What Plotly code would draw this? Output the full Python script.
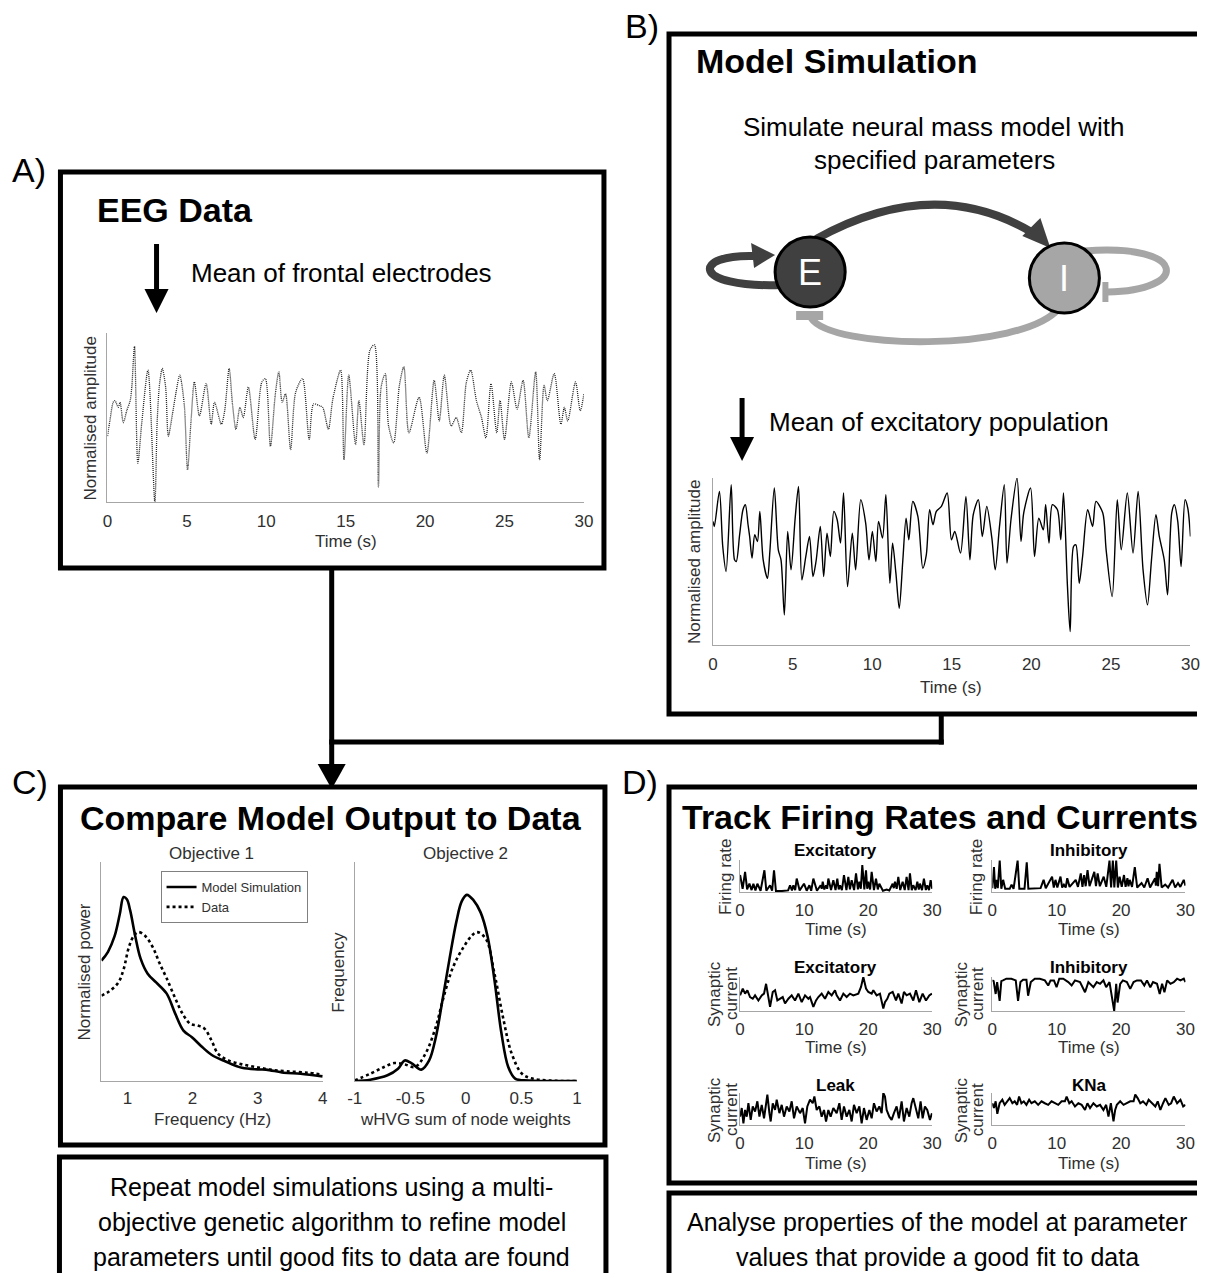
import plotly.graph_objects as go

W, H = 1206, 1273
FONT = "Liberation Sans, Arial, sans-serif"
AXC = "#a6a6a6"
TXT = "#303030"

# horizontal calibration of the page capture (screen x = SX * paper_px + OX)
SX, OX = 0.985, 7.6

# ---------------- data ----------------
eeg_t = [0, 0.15, 0.36, 0.47, 0.68, 0.79, 1.0, 1.21, 1.43, 1.53,
         1.70, 1.91, 2.17, 2.55, 2.98, 3.13, 3.28, 3.45, 3.66, 3.83,
         4.09, 4.30, 4.55, 4.83, 5.04, 5.26, 5.47, 5.79, 6.21, 6.53,
         6.74, 7.17, 7.38, 7.66, 7.87, 8.09, 8.34, 8.55, 8.87, 9.30,
         9.72, 9.94, 10.26, 10.57, 10.79, 11.0, 11.21, 11.53, 11.85, 12.28,
         12.70, 12.98, 13.34, 13.55, 13.91, 14.19, 14.68, 14.89, 15.19, 15.62,
         15.83, 16.15, 16.53, 16.81, 17.06, 17.23, 17.49, 17.70, 18.02, 18.38,
         18.66, 18.98, 19.62, 20.11, 20.57, 20.89, 21.21, 21.64, 21.96, 22.28,
         22.6, 22.87, 23.23, 23.55, 23.83, 24.15, 24.51, 24.72, 25.0, 25.43,
         25.79, 26.17, 26.53, 26.96, 27.21, 27.49, 27.70, 28.13, 28.55, 28.77,
         28.98, 29.47, 29.77, 30]
eeg_v = [39, 48, 59, 60, 56, 59, 47, 54, 60, 68,
         92, 23, 48, 78, 0, 48, 70, 79, 68, 39,
         52, 64, 75, 58, 19, 48, 71, 51, 70, 46,
         59, 46, 54, 79, 58, 43, 56, 50, 68, 37,
         71, 73, 33, 64, 77, 59, 64, 31, 65, 73,
         37, 58, 57, 56, 43, 61, 78, 25, 75, 34,
         60, 34, 90, 93, 9, 68, 76, 45, 35, 69,
         80, 41, 62, 29, 72, 48, 75, 45, 50, 41,
         71, 78, 60, 50, 38, 70, 41, 60, 37, 71,
         55, 72, 38, 77, 25, 69, 60, 76, 46, 56,
         48, 71, 54, 64]

sim_t = [0, 0.08, 0.40, 0.61, 0.82, 1.14, 1.35, 1.46, 1.67, 1.88,
         2.03, 2.20, 2.30, 2.45, 2.62, 2.79, 2.94, 3.15, 3.42, 3.57,
         3.85, 4.10, 4.27, 4.48, 4.69, 4.90, 5.16, 5.37, 5.58, 5.83,
         6.06, 6.28, 6.47, 6.74, 6.95, 7.16, 7.37, 7.59, 7.80, 8.01,
         8.20, 8.45, 8.75, 8.96, 9.28, 9.59, 9.80, 10.01, 10.23, 10.40,
         10.65, 10.86, 11.11, 11.28, 11.49, 11.70, 11.92, 12.13, 12.30, 12.55,
         12.87, 13.18, 13.40, 13.61, 13.82, 14.03, 14.35, 14.71, 14.98, 15.19,
         15.55, 15.89, 16.14, 16.35, 16.67, 16.92, 17.20, 17.52, 17.73, 18.00,
         18.30, 18.47, 18.72, 19.10, 19.35, 19.52, 19.95, 20.20, 20.47, 20.75,
         20.90, 21.11, 21.32, 21.64, 21.85, 22.02, 22.27, 22.44, 22.65, 22.80,
         23.01, 23.22, 23.54, 23.85, 24.06, 24.49, 24.70, 25.08, 25.40, 25.65,
         26.03, 26.39, 26.71, 27.02, 27.30, 27.55, 27.83, 28.04, 28.35, 28.56,
         28.82, 28.99, 29.20, 29.41, 29.66, 29.83, 30.0]
sim_v = [74, 71, 92, 59, 44, 96, 51, 50, 66, 81,
         84, 72, 65, 52, 66, 62, 80, 51, 40, 56,
         94, 57, 51, 18, 68, 45, 76, 95, 39, 53,
         65, 41, 50, 71, 41, 67, 53, 80, 75, 61,
         91, 35, 67, 45, 87, 73, 51, 68, 50, 74,
         64, 90, 37, 61, 43, 22, 50, 76, 63, 86,
         77, 46, 54, 81, 72, 80, 83, 91, 63, 68,
         55, 89, 51, 78, 87, 65, 83, 64, 45, 71,
         96, 49, 75, 100, 62, 79, 94, 53, 76, 69,
         84, 61, 84, 81, 63, 91, 35, 8, 59, 60,
         37, 53, 81, 71, 86, 79, 57, 29, 87, 57,
         91, 55, 92, 45, 24, 51, 78, 65, 51, 30,
         79, 84, 74, 47, 87, 82, 65]

psd_f_model = [0.6, 0.70, 0.80, 0.88, 0.94, 0.99, 1.04, 1.12, 1.20, 1.31, 1.44, 1.60,
               1.73, 1.86, 1.99, 2.13, 2.29, 2.50, 2.76, 3.0, 3.13, 3.40, 3.66, 4.0]
psd_model = [55, 59, 66, 76, 84, 83, 78, 66, 56, 49, 45, 40,
             31, 23, 20, 16, 12, 9, 6, 5.3, 5.2, 3.8, 3.3, 2.1]
psd_f_data = [0.6, 0.72, 0.86, 0.94, 1.02, 1.10, 1.17, 1.28, 1.39, 1.49, 1.60, 1.73, 1.86,
              1.97, 2.07, 2.18, 2.29, 2.39, 2.55, 2.76, 2.97, 3.19, 3.45, 3.77, 4.0]
psd_data = [39, 41, 45, 51, 61, 66.5, 68, 66, 61, 54, 47, 38, 30,
            26, 25.4, 24, 18.6, 12.5, 9.4, 7.6, 6.4, 5.2, 4.4, 3.8, 2.9]

hvg_x_model = [-1, -0.86, -0.705, -0.61, -0.55, -0.49, -0.40, -0.33, -0.27, -0.21, -0.146, -0.084,
               -0.037, 0.009, 0.07, 0.133, 0.196, 0.258, 0.32, 0.382, 0.444, 0.568, 1.0]
hvg_model = [0, 0.6, 2.6, 5.6, 9.4, 8.2, 5.2, 9.4, 20, 37, 56, 73,
             82, 85, 82.5, 77, 66, 46, 22, 6.4, 1.1, 0.2, 0]
hvg_x_data = [-1, -0.86, -0.736, -0.643, -0.55, -0.457, -0.363, -0.27, -0.208, -0.115, -0.022,
              0.056, 0.102, 0.18, 0.258, 0.335, 0.413, 0.506, 0.6, 0.755, 1.0]
hvg_data = [0.3, 3.3, 6.4, 8.2, 7.6, 6.4, 12.5, 24.7, 36.8, 52, 61,
            66.5, 68, 65, 49, 29, 12.5, 3.3, 1.1, 0.2, 0]

exc_fr_t = [0, 0.4, 0.78, 1.1, 1.46, 1.8, 2.08, 2.4, 2.7, 3.2, 3.8, 4.1, 4.68, 5.0, 5.3, 5.6,
            6.5, 7.5, 7.8, 8.1, 8.32, 8.6, 8.84, 9.3, 9.98, 10.4, 10.82, 11.1, 11.44, 12.0,
            12.58, 12.75, 12.9, 13.15, 13.42, 13.6, 13.78, 14.2, 14.56, 14.9, 15.18, 15.4,
            15.6, 15.9, 16.22, 16.6, 16.9, 17.15, 17.42, 17.8, 18.1, 18.4, 18.62, 18.85,
            19.08, 19.4, 19.66, 19.85, 20.02, 20.3, 20.54, 20.9, 21.22, 21.5, 21.74, 22.3,
            22.88, 23.3, 23.82, 24.0, 24.18, 24.45, 24.7, 25.0, 25.38, 25.7, 26.0, 26.3,
            26.52, 26.8, 27.04, 27.4, 27.67, 27.9, 28.08, 28.4, 28.7, 29.0, 29.22, 29.5,
            29.75, 30]
exc_fr_v = [53, 10, 63, 8, 26, 6, 26, 5, 26, 4, 68, 4, 21, 4, 68, 3,
            3, 5, 21, 5, 21, 6, 42, 5, 26, 4, 21, 4, 42, 4,
            21, 10, 32, 8, 21, 10, 42, 6, 37, 6, 42, 8,
            21, 6, 53, 6, 47, 8, 37, 6, 58, 8, 32, 10,
            84, 8, 68, 10, 32, 8, 63, 6, 42, 8, 26, 4,
            8, 5, 26, 12, 32, 10, 47, 6, 32, 6, 47, 6,
            58, 6, 21, 6, 32, 8, 26, 6, 42, 6, 21, 6,
            37, 10]

inh_fr_t = [0, 0.26, 0.45, 0.63, 0.85, 1.15, 1.4, 1.68, 2.0, 2.7, 2.99, 3.3, 3.93, 4.2,
            5.0, 5.35, 5.6, 6.5, 7.5, 7.97, 8.3, 9.28, 9.55, 9.81, 10.1, 10.59, 10.85,
            11.12, 11.4, 11.64, 12.0, 12.95, 13.3, 13.74, 14.0, 14.26, 14.5, 14.79, 15.1,
            15.84, 16.1, 16.36, 16.7, 17.3, 17.7, 18.2, 18.45, 18.72, 18.95, 19.24, 19.5,
            19.77, 20.1, 20.45, 20.7, 20.98, 21.15, 21.34, 21.7, 22.13, 22.5, 23.18, 23.6,
            24.12, 24.5, 25.28, 25.4, 25.54, 25.75, 25.96, 26.3, 26.85, 27.3, 28.0, 28.4,
            28.84, 29.2, 29.73, 30]
inh_fr_v = [12, 78, 10, 38, 12, 98, 10, 38, 10, 10, 23, 10, 98, 10,
            10, 93, 10, 10, 12, 38, 12, 48, 14, 38, 14, 48, 14,
            23, 14, 43, 16, 38, 16, 58, 16, 53, 18, 68, 18,
            63, 18, 58, 18, 48, 16, 98, 14, 98, 14, 98, 14,
            48, 16, 53, 16, 43, 18, 38, 16, 78, 14, 28, 14,
            43, 14, 43, 20, 63, 18, 88, 14, 23, 14, 38, 14,
            28, 16, 38, 20]

exc_cur_t = [0, 0.42, 0.78, 1.14, 1.56, 1.98, 2.34, 2.86, 3.38, 3.74, 4.06, 4.42, 4.68, 5.1,
             5.46, 5.82, 6.24, 6.66, 7.02, 7.54, 8.06, 8.58, 9.1, 9.62, 10.14, 10.66, 10.92,
             11.44, 11.86, 12.22, 12.74, 13.26, 13.78, 14.3, 14.82, 15.08, 15.6, 16.12, 16.64,
             17.16, 17.68, 18.46, 18.88, 19.24, 19.66, 20.02, 20.54, 20.8, 21.32, 21.84, 22.36,
             22.62, 22.98, 23.3, 23.82, 24.34, 24.7, 25.22, 25.58, 26.0, 26.52, 27.04, 27.46,
             27.98, 28.5, 29.02, 29.54, 29.95]
exc_cur_v = [46, 66, 51, 61, 41, 36, 46, 31, 46, 51, 80, 41, 12, 56,
             61, 31, 36, 41, 22, 36, 46, 31, 51, 26, 46, 36, 41,
             12, 31, 41, 51, 36, 56, 46, 61, 46, 31, 51, 41,
             51, 46, 51, 71, 100, 66, 56, 51, 61, 46, 51, 7,
             26, 36, 51, 56, 31, 51, 22, 56, 46, 51, 31, 61,
             26, 51, 31, 46, 51]

inh_cur_t = [0, 0.21, 0.52, 0.75, 1.14, 1.4, 1.66, 2.18, 2.96, 3.64, 4.0, 4.37, 4.78, 5.3,
             5.56, 5.98, 6.6, 7.38, 8.16, 8.68, 9.05, 9.57, 9.98, 10.4, 11.02, 11.8, 12.32,
             12.84, 13.62, 14.4, 14.92, 15.7, 16.22, 16.74, 17.26, 17.68, 18.2, 18.56, 18.93,
             19.24, 19.45, 19.86, 20.28, 20.9, 21.42, 21.94, 22.46, 23.09, 23.61, 24.02, 24.54,
             24.96, 25.58, 26.0, 26.37, 26.73, 27.15, 27.67, 28.18, 28.7, 29.22, 29.74, 30]
inh_cur_v = [90, 88, 50, 85, 30, 88, 90, 95, 95, 90, 30, 85, 92, 92,
             45, 85, 95, 95, 90, 75, 90, 90, 70, 95, 95, 85, 75,
             90, 85, 55, 85, 70, 85, 80, 90, 70, 85, 40, 0,
             80, 25, 80, 90, 85, 65, 85, 90, 90, 75, 90, 70,
             85, 80, 50, 80, 55, 90, 80, 85, 95, 90, 95, 85]

leak_t = [0, 0.26, 0.52, 0.78, 1.04, 1.3, 1.66, 1.98, 2.34, 2.7, 3.02, 3.38, 3.74, 4.06,
          4.26, 4.58, 4.78, 5.1, 5.46, 5.72, 6.14, 6.5, 6.86, 7.28, 7.7, 8.06, 8.42, 8.84,
          9.36, 9.78, 10.14, 10.5, 10.92, 11.34, 11.6, 11.96, 12.38, 12.74, 13.1, 13.42,
          13.78, 14.14, 14.56, 15.08, 15.5, 15.86, 16.22, 16.64, 17.06, 17.42, 17.78, 18.2,
          18.62, 18.98, 19.34, 19.76, 20.18, 20.54, 20.9, 21.32, 21.74, 22.1, 22.36, 22.62,
          22.88, 23.3, 23.66, 24.02, 24.44, 24.8, 25.22, 25.58, 26.0, 26.42, 26.78, 27.04,
          27.46, 27.82, 28.18, 28.5, 28.86, 29.22, 29.64, 29.95]
leak_v = [26, 53, 5, 47, 26, 68, 16, 58, 42, 74, 26, 63, 21, 74,
          95, 37, 11, 68, 47, 79, 37, 63, 26, 58, 42, 74, 21, 58,
          37, 53, 5, 58, 79, 68, 89, 47, 58, 26, 47, 11,
          47, 26, 53, 37, 68, 16, 58, 26, 47, 11, 63, 37,
          58, 5, 53, 16, 47, 21, 68, 42, 58, 37, 100, 89,
          47, 26, 16, 37, 58, 21, 74, 11, 53, 26, 68, 84,
          47, 21, 74, 21, 58, 47, 16, 37]

kna_t = [0, 0.26, 0.52, 0.78, 1.14, 1.56, 1.92, 2.29, 2.7, 3.12, 3.48, 3.85, 4.16, 4.52,
         4.89, 5.3, 5.72, 6.08, 6.6, 7.12, 7.64, 8.16, 8.68, 9.2, 9.72, 10.24, 10.76, 11.28,
         11.54, 11.96, 12.32, 12.84, 13.36, 13.88, 14.4, 14.77, 15.18, 15.7, 16.22, 16.74,
         17.26, 17.68, 18.04, 18.41, 18.82, 19.08, 19.34, 19.86, 20.38, 20.9, 21.42, 21.94,
         22.2, 22.57, 22.98, 23.4, 23.92, 24.28, 24.8, 25.32, 25.69, 26.1, 26.52, 26.88,
         27.4, 27.77, 28.18, 28.7, 29.22, 29.64, 30]
kna_v = [68, 53, 74, 35, 68, 79, 63, 74, 84, 68, 74, 63, 89, 68,
         74, 63, 79, 68, 74, 63, 74, 68, 63, 74, 68, 63, 74, 74,
         89, 68, 74, 58, 68, 63, 47, 68, 53, 68, 58, 63,
         47, 63, 26, 68, 11, 47, 63, 74, 63, 68, 74, 74,
         95, 84, 68, 74, 63, 79, 68, 58, 74, 47, 68, 84,
         63, 68, 89, 68, 79, 58, 63]

time_ticks_5 = [0, 5, 10, 15, 20, 25, 30]
time_ticks_10 = [0, 10, 20, 30]
freq_ticks = [1, 2, 3, 4]
hvg_ticks = [-1, -0.5, 0, 0.5, 1]
hvg_ticktext = ["-1", "-0.5", "0", "0.5", "1"]

# ---------------- layout helpers ----------------
def X(x):
    return (x - OX) / SX

def dx(a, b):
    return [max(0, X(a) / W), min(1, X(b) / W)]

def dy(top, bot):
    return [1 - bot / H, 1 - top / H]

fig = go.Figure()
layout = {}

def add_axes(n, xpx, ypx, xr, tickvals, ticktext=None, fs=17, standoff=2):
    xs = "xaxis" if n == 1 else f"xaxis{n}"
    ys = "yaxis" if n == 1 else f"yaxis{n}"
    layout[xs] = dict(domain=dx(*xpx), range=xr, anchor=f"y{n}" if n > 1 else "y",
                      showgrid=False, zeroline=False, showline=True, linecolor=AXC,
                      linewidth=1.2, ticks="", tickvals=tickvals,
                      ticktext=ticktext if ticktext else [str(v) for v in tickvals],
                      ticklabelstandoff=standoff,
                      tickfont=dict(size=fs, color=TXT, family=FONT), fixedrange=True)
    layout[ys] = dict(domain=dy(*ypx), range=[0, 100], anchor=f"x{n}" if n > 1 else "x",
                      showgrid=False, zeroline=False, showline=True, linecolor=AXC,
                      linewidth=1.2, ticks="", showticklabels=False, fixedrange=True)

# A: EEG
add_axes(1, (107, 583), (333, 502), [0, 30], time_ticks_5, standoff=3)
fig.add_trace(go.Scatter(x=eeg_t, y=eeg_v, mode="lines", xaxis="x", yaxis="y",
                         line=dict(color="#202020", width=1.3, dash="1px,1px", shape="spline", smoothing=0.8),
                         showlegend=False))
# B: model simulation
add_axes(2, (712, 1189), (478, 645), [0, 30], time_ticks_5, standoff=3)
fig.add_trace(go.Scatter(x=sim_t, y=sim_v, mode="lines", xaxis="x2", yaxis="y2",
                         line=dict(color="black", width=1.4, shape="spline", smoothing=0.8),
                         showlegend=False))
# C1: PSD
add_axes(3, (101, 322), (862, 1081), [0.6, 4], freq_ticks, standoff=1)
fig.add_trace(go.Scatter(x=psd_f_model, y=psd_model, mode="lines", xaxis="x3", yaxis="y3",
                         name="Model Simulation",
                         line=dict(color="black", width=2.6, shape="spline")))
fig.add_trace(go.Scatter(x=psd_f_data, y=psd_data, mode="lines", xaxis="x3", yaxis="y3",
                         name="Data",
                         line=dict(color="black", width=2.6, dash="dot", shape="spline")))
# C2: wHVG
add_axes(4, (354, 576), (862, 1081), [-1, 1], hvg_ticks, hvg_ticktext, standoff=1)
fig.add_trace(go.Scatter(x=hvg_x_model, y=hvg_model, mode="lines", xaxis="x4", yaxis="y4",
                         showlegend=False,
                         line=dict(color="black", width=2.6, shape="spline")))
fig.add_trace(go.Scatter(x=hvg_x_data, y=hvg_data, mode="lines", xaxis="x4", yaxis="y4",
                         showlegend=False,
                         line=dict(color="black", width=2.6, dash="dot", shape="spline")))
# D panels
d_specs = [
    (5, (739, 931), (860, 892), exc_fr_t, exc_fr_v),
    (6, (991, 1184), (860, 892), inh_fr_t, inh_fr_v),
    (7, (739, 931), (977, 1011), exc_cur_t, exc_cur_v),
    (8, (991, 1184), (977, 1011), inh_cur_t, inh_cur_v),
    (9, (739, 931), (1093, 1125), leak_t, leak_v),
    (10, (991, 1184), (1093, 1125), kna_t, kna_v),
]
for n, xp, yp, tt, vv in d_specs:
    add_axes(n, xp, yp, [0, 30], time_ticks_10, standoff=2)
    fig.add_trace(go.Scatter(x=tt, y=vv, mode="lines", xaxis=f"x{n}", yaxis=f"y{n}",
                             showlegend=False, line=dict(color="black", width=2)))

# overlay axes in (screen) pixel units for the diagram, boxes and labels
layout["xaxis11"] = dict(domain=[0, 1], range=[OX, OX + SX * W], visible=False,
                         anchor="y11", fixedrange=True)
layout["yaxis11"] = dict(domain=[0, 1], range=[H, 0], visible=False, anchor="x11", fixedrange=True)

shapes = []

def rect(x0, y0, x1, y1, lw=5, color="black", fill=None):
    d = dict(type="rect", xref="x11", yref="y11", x0=x0, y0=y0, x1=x1, y1=y1,
             line=dict(color=color, width=lw), layer="above")
    if fill:
        d["fillcolor"] = fill
    shapes.append(d)

def line(x0, y0, x1, y1, lw=5, color="black"):
    shapes.append(dict(type="line", xref="x11", yref="y11", x0=x0, y0=y0, x1=x1, y1=y1,
                       line=dict(color=color, width=lw), layer="above"))

def path(p, color="black", lw=0, fill=None):
    d = dict(type="path", xref="x11", yref="y11", path=p, layer="above",
             line=dict(color=color, width=lw))
    if fill:
        d["fillcolor"] = fill
    shapes.append(d)

# boxes
rect(60, 172, 603, 568)
rect(668, 34, 1230, 714)
rect(60, 787, 604, 1145)
rect(59, 1157, 605, 1290)
rect(668, 787, 1230, 1183)
rect(668, 1193, 1230, 1290)

# arrows / connectors
line(156, 244, 156, 292)
path("M 144 289 L 168 289 L 156 313 Z", fill="black")
line(741, 398, 741, 440)
path("M 729 437 L 753 437 L 741 461 Z", fill="black")
line(331, 566, 331, 768)
line(328.5, 742, 942.5, 742)
line(940, 712, 940, 744.5)
path("M 317 764 L 345 764 L 331 789 Z", fill="black")

# E-I diagram
DARK = "#404040"
LIGHT = "#a6a6a6"
path("M 815 239 Q 932 174 1030 232", color=DARK, lw=8)
path("M 1021 236 L 1039 218 L 1049 248 Z", fill=DARK)
path("M 780 285 C 690 288, 690 254, 754 256", color=DARK, lw=8)
path("M 750 243 L 753 268 L 774 255 Z", fill=DARK)
path("M 1083 251 C 1188 243, 1188 291, 1106 292", color=LIGHT, lw=7)
rect(1101, 282, 1107, 302, lw=0, color=LIGHT, fill=LIGHT)
path("M 1057 309 C 1020 352, 830 350, 810 318", color=LIGHT, lw=7)
rect(795, 311, 822, 320, lw=0, color=LIGHT, fill=LIGHT)
shapes.append(dict(type="circle", xref="x11", yref="y11", x0=774, y0=237, x1=844, y1=307,
                   fillcolor=DARK, line=dict(color="black", width=3), layer="above"))
shapes.append(dict(type="circle", xref="x11", yref="y11", x0=1028, y0=243, x1=1098, y1=313,
                   fillcolor=LIGHT, line=dict(color="black", width=3), layer="above"))

anns = []

def txt(x, y, s, size, bold=False, color="black", angle=0, xanchor="center"):
    anns.append(dict(x=x, y=y, xref="x11", yref="y11", text=f"<b>{s}</b>" if bold else s,
                     showarrow=False, textangle=angle, xanchor=xanchor, yanchor="middle",
                     font=dict(size=size, color=color, family=FONT)))

# panel letters
txt(29, 170, "A)", 34)
txt(641, 26, "B)", 34)
txt(30, 782, "C)", 34)
txt(639, 782, "D)", 34)
# titles
txt(95, 210, "EEG Data", 34, bold=True, xanchor="left")
txt(693, 61, "Model Simulation", 34, bold=True, xanchor="left")
txt(330, 818, "Compare Model Output to Data", 34, bold=True)
txt(939, 817, "Track Firing Rates and Currents", 34, bold=True)
# body text
txt(188, 273, "Mean of frontal electrodes", 26, xanchor="left")
txt(933, 127, "Simulate neural mass model with", 26)
txt(933, 160, "specified parameters", 26)
txt(766, 422, "Mean of excitatory population", 26, xanchor="left")
txt(809, 272, "E", 36, color="white")
txt(1063, 278, "I", 36, color="white")
txt(331, 1187, "Repeat model simulations using a multi-", 25)
txt(331, 1222, "objective genetic algorithm to refine model", 25)
txt(331, 1257, "parameters until good fits to data are found", 25)
txt(936, 1222, "Analyse properties of the model at parameter", 25)
txt(936, 1257, "values that provide a good fit to data", 25)
# axis titles
txt(90, 418, "Normalised amplitude", 17, color=TXT, angle=-90)
txt(345, 541, "Time (s)", 17, color=TXT)
txt(693, 562, "Normalised amplitude", 17, color=TXT, angle=-90)
txt(950, 687, "Time (s)", 17, color=TXT)
txt(211, 853, "Objective 1", 17, color=TXT)
txt(465, 853, "Objective 2", 17, color=TXT)
txt(84, 972, "Normalised power", 17, color=TXT, angle=-90)
txt(337, 972, "Frequency", 17, color=TXT, angle=-90)
txt(212, 1119, "Frequency (Hz)", 17, color=TXT)
txt(465, 1119, "wHVG sum of node weights", 17, color=TXT)
# D panel labels
txt(834, 850, "Excitatory", 17, bold=True)
txt(1088, 850, "Inhibitory", 17, bold=True)
txt(834, 967, "Excitatory", 17, bold=True)
txt(1088, 967, "Inhibitory", 17, bold=True)
txt(834, 1085, "Leak", 17, bold=True)
txt(1088, 1085, "KNa", 17, bold=True)
for ty in (929, 1047, 1163):
    txt(835, ty, "Time (s)", 17, color=TXT)
    txt(1088, ty, "Time (s)", 17, color=TXT)
txt(724, 877, "Firing rate", 17, color=TXT, angle=-90)
txt(975, 877, "Firing rate", 17, color=TXT, angle=-90)
for cy in (994, 1110):
    txt(713, cy, "Synaptic", 17, color=TXT, angle=-90)
    txt(730, cy, "current", 17, color=TXT, angle=-90)
    txt(960, cy, "Synaptic", 17, color=TXT, angle=-90)
    txt(976, cy, "current", 17, color=TXT, angle=-90)

fig.update_layout(
    width=W, height=H, autosize=False,
    margin=dict(l=0, r=0, t=0, b=0, pad=0),
    paper_bgcolor="white", plot_bgcolor="rgba(0,0,0,0)",
    font=dict(family=FONT, color=TXT),
    shapes=shapes, annotations=anns,
    legend=dict(x=X(160) / W, y=1 - 871 / H, xanchor="left", yanchor="top",
                bordercolor="#808080", borderwidth=1, bgcolor="white",
                font=dict(size=13, color=TXT, family=FONT), tracegroupgap=0,
                itemwidth=30),
    **layout,
)

fig.write_html("out.html", config={"responsive": False},
               post_script="document.body.style.margin='0';document.body.style.overflow='hidden';")
